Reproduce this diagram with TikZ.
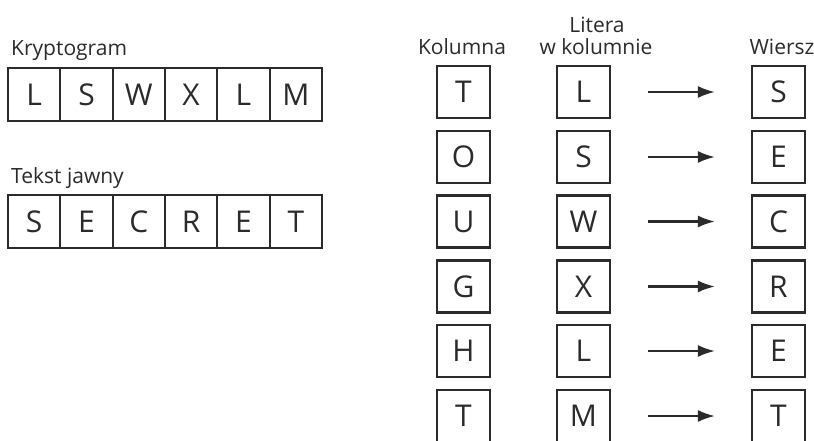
\documentclass[tikz,border=0pt]{standalone}
\usepackage{fontspec}
\setmainfont{Open Sans}
\usetikzlibrary{arrows.meta}
\definecolor{ink}{HTML}{2B2B2B}
\begin{document}
\begin{tikzpicture}[x=1pt,y=-1pt,
  cell/.style={draw=ink, line width=2.2pt, minimum width=52.3pt, minimum height=53pt,
    inner sep=0pt, font=\fontsize{30}{30}\selectfont, text=ink},
  sq/.style={cell, minimum width=53pt, minimum height=52pt},
  lbl/.style={font=\fontsize{21}{21}\selectfont, text=ink, inner sep=0pt},
  arr/.style={draw=ink, line width=2.2pt, -{Latex[length=17pt,width=12pt]},
    shorten <=37pt, shorten >=36pt}]
\useasboundingbox (0,0) rectangle (814,440);
\clip (0,0) rectangle (814,440);
% left side
\node[lbl, anchor=base west] (klab) at (11,55) {Kryptogram};
\node[lbl, anchor=base west] (tlab) at (11,183) {Tekst jawny};
\foreach \t [count=\i] in {L,S,W,X,L,M}
  \node[cell] (k\i) at ({8+52.33*(\i-0.5)},94.5) {\t};
\foreach \t [count=\i] in {S,E,C,R,E,T}
  \node[cell] (p\i) at ({8+52.33*(\i-0.5)},221.5) {\t};
% headers
\node[lbl, anchor=base] (hk) at (462,54) {Kolumna};
\node[lbl, anchor=base] (hl1) at (597,32) {Litera};
\node[lbl, anchor=base] (hl2) at (596,54) {w kolumnie};
\node[lbl, anchor=base] (hw) at (782,54) {Wiersz};
% right side
\foreach \a/\b/\c/\y [count=\i] in {T/L/S/92, O/S/E/157, U/W/C/221.5, G/X/R/286.5, H/L/E/351, T/M/T/416}{
  \node[sq] (c\i) at (463.5,\y) {\a};
  \node[sq] (m\i) at (583.5,\y) {\b};
  \node[sq] (w\i) at (778.5,\y) {\c};
  \draw[arr] (m\i) -- (w\i);
}
\end{tikzpicture}
\end{document}
